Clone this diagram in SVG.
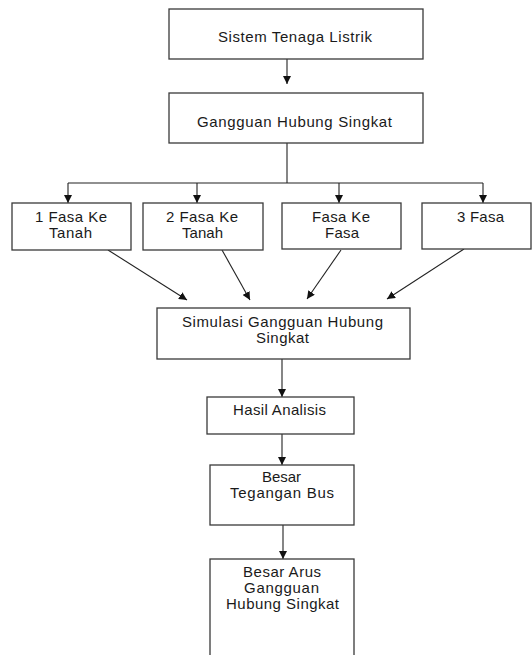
<svg xmlns="http://www.w3.org/2000/svg" width="532" height="655" viewBox="0 0 532 655">
<style>
.box{fill:#fff;stroke:#3a3a3a;stroke-width:1.3}
.t{font-family:"Liberation Sans",Arial,sans-serif;font-size:15px;fill:#1a1a1a;text-anchor:middle}
.c{fill:none;stroke:#222;stroke-width:1.1}
</style>
<defs>
<marker id="ah" viewBox="0 0 8 8" refX="8" refY="4" markerWidth="8" markerHeight="8" markerUnits="userSpaceOnUse" orient="auto">
<path d="M0,0 L8,4 L0,8 z" fill="#111"/>
</marker>
</defs>
<rect width="532" height="655" fill="#fff"/>
<g id="connectors">
<line class="c" x1="287" y1="59" x2="287" y2="84" marker-end="url(#ah)"/>
<polyline class="c" points="287,143 287,183"/>
<line class="c" x1="68" y1="183" x2="483" y2="183"/>
<line class="c" x1="68" y1="183" x2="68" y2="203" marker-end="url(#ah)"/>
<line class="c" x1="197" y1="183" x2="197" y2="203" marker-end="url(#ah)"/>
<line class="c" x1="339" y1="183" x2="339" y2="203" marker-end="url(#ah)"/>
<line class="c" x1="483" y1="183" x2="483" y2="203" marker-end="url(#ah)"/>
<line class="c" x1="108" y1="250" x2="187" y2="300" marker-end="url(#ah)"/>
<line class="c" x1="222" y1="250" x2="250" y2="300" marker-end="url(#ah)"/>
<line class="c" x1="341" y1="250" x2="307" y2="299" marker-end="url(#ah)"/>
<line class="c" x1="464" y1="249" x2="387" y2="299" marker-end="url(#ah)"/>
<line class="c" x1="282" y1="359" x2="282" y2="397" marker-end="url(#ah)"/>
<line class="c" x1="282" y1="434" x2="282" y2="465" marker-end="url(#ah)"/>
<line class="c" x1="283" y1="525" x2="283" y2="559" marker-end="url(#ah)"/>
</g>
<g id="n1"><rect class="box" x="169" y="9" width="254" height="50"/><text class="t" x="295" y="42" textLength="154" lengthAdjust="spacing">Sistem Tenaga Listrik</text></g>
<g id="n2"><rect class="box" x="169" y="93" width="254" height="50"/><text class="t" x="294.5" y="127" textLength="195" lengthAdjust="spacing">Gangguan Hubung Singkat</text></g>
<g id="n3"><rect class="box" x="12" y="203" width="119" height="47"/><text class="t" x="71" y="222" textLength="72" lengthAdjust="spacing">1 Fasa Ke</text><text class="t" x="70.5" y="238" textLength="43" lengthAdjust="spacing">Tanah</text></g>
<g id="n4"><rect class="box" x="143" y="203" width="120" height="47"/><text class="t" x="202" y="222" textLength="72" lengthAdjust="spacing">2 Fasa Ke</text><text class="t" x="202.5" y="238" textLength="41" lengthAdjust="spacing">Tanah</text></g>
<g id="n5"><rect class="box" x="282" y="203" width="119" height="46"/><text class="t" x="341" y="222" textLength="58" lengthAdjust="spacing">Fasa Ke</text><text class="t" x="342" y="238" textLength="34" lengthAdjust="spacing">Fasa</text></g>
<g id="n6"><rect class="box" x="422" y="203" width="109" height="46"/><text class="t" x="480.5" y="222" textLength="47" lengthAdjust="spacing">3 Fasa</text></g>
<g id="n7"><rect class="box" x="157" y="308" width="253" height="51"/><text class="t" x="282.5" y="327" textLength="201" lengthAdjust="spacing">Simulasi Gangguan Hubung</text><text class="t" x="282.5" y="343" textLength="53" lengthAdjust="spacing">Singkat</text></g>
<g id="n8"><rect class="box" x="207" y="397" width="147" height="37"/><text class="t" x="279.5" y="415" textLength="93" lengthAdjust="spacing">Hasil Analisis</text></g>
<g id="n9"><rect class="box" x="210" y="465" width="144" height="60"/><text class="t" x="281.5" y="482" textLength="39" lengthAdjust="spacing">Besar</text><text class="t" x="282" y="498" textLength="104" lengthAdjust="spacing">Tegangan Bus</text></g>
<g id="n10"><rect class="box" x="210" y="559" width="144" height="110"/><text class="t" x="282" y="577" textLength="78" lengthAdjust="spacing">Besar Arus</text><text class="t" x="281.5" y="593" textLength="75" lengthAdjust="spacing">Gangguan</text><text class="t" x="282.5" y="609" textLength="113" lengthAdjust="spacing">Hubung Singkat</text></g>
</svg>
